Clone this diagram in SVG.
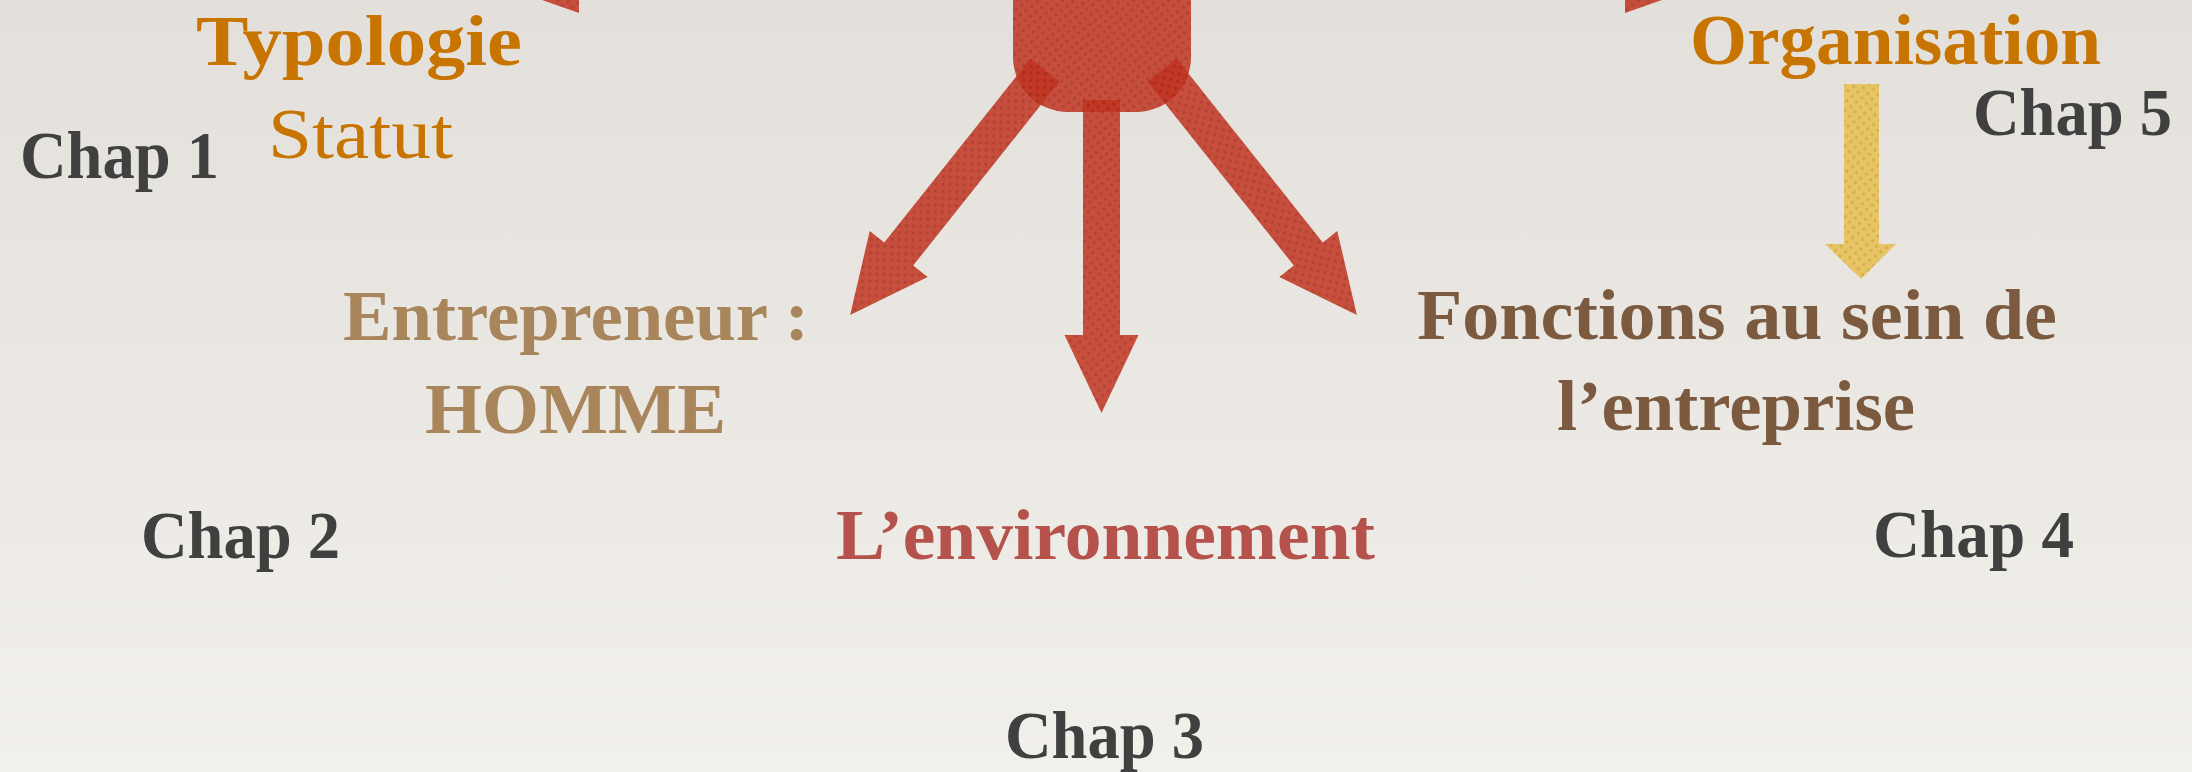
<svg xmlns="http://www.w3.org/2000/svg" width="2192" height="772" viewBox="0 0 2192 772">
  <defs>
    <linearGradient id="paper" x1="0" y1="0" x2="0" y2="1">
      <stop offset="0" stop-color="#e3e0db"/>
      <stop offset="1" stop-color="#f2f0eb"/>
    </linearGradient>
    <!-- woven dot texture for the red shapes -->
    <pattern id="redWeave" patternUnits="userSpaceOnUse" width="10" height="10" patternTransform="rotate(8)">
      <rect width="10" height="10" fill="#c03420"/>
      <rect x="1" y="1" width="3.2" height="3.2" rx="1.2" fill="#ab2715"/>
      <rect x="6" y="6" width="3.2" height="3.2" rx="1.2" fill="#ab2715"/>
    </pattern>
    <!-- same texture in ochre -->
    <pattern id="goldWeave" patternUnits="userSpaceOnUse" width="10" height="10" patternTransform="rotate(8)">
      <rect width="10" height="10" fill="#e7c567"/>
      <rect x="1" y="1" width="3.2" height="3.2" rx="1.2" fill="#d6b050"/>
      <rect x="6" y="6" width="3.2" height="3.2" rx="1.2" fill="#d6b050"/>
    </pattern>
    <!-- block arrow pointing down, origin at the tail centre -->
    <path id="blockArrow" d="M -18.5,0 L 18.5,0 L 18.5,235 L 37,235 L 0,313 L -37,235 L -18.5,235 Z"/>
  </defs>
  <style>
    .red { fill: url(#redWeave); fill-opacity: 0.85; }
    .gold { fill: url(#goldWeave); }
    text { font-family: "Liberation Serif", "Times New Roman", serif; text-anchor: middle; font-size: 72px; }
    .b { font-weight: bold; }
    .chap { font-weight: bold; font-size: 68px; fill: #404040; }
    .orange { fill: #c77400; }
    .tan { fill: #a8855a; }
    .brown { fill: #7c5a40; }
    .rose { fill: #b5524b; }
  </style>

  <rect width="2192" height="772" fill="url(#paper)"/>

  <!-- central hub -->
  <g id="hub">
    <rect class="red" x="1013" y="-66" width="178" height="178" rx="55"/>
  </g>

  <g id="connectors">
    <!-- arrows leaving the hub to the upper left and upper right -->
    <path class="red" d="M 1060,-42 L 579,-42 L 579,-61 L 474,-24 L 579,13 L 579,-6 L 1060,-6 Z"/>
    <path class="red" d="M 1144,-42 L 1625,-42 L 1625,-61 L 1730,-24 L 1625,13 L 1625,-6 L 1144,-6 Z"/>
    <!-- three arrows fanning downward -->
    <use href="#blockArrow" class="red" transform="translate(1045,70) rotate(38.5)"/>
    <use href="#blockArrow" class="red" transform="translate(1101.5,100)"/>
    <use href="#blockArrow" class="red" transform="translate(1162,70) rotate(-38.5)"/>
    <!-- Organisation to Fonctions -->
    <path class="gold" d="M 1844,84 L 1879,84 L 1879,244 L 1896,244 L 1861,279 L 1825,244 L 1844,244 Z"/>
  </g>

  <g id="typologie">
    <text class="b orange" x="359" y="65" textLength="326" lengthAdjust="spacingAndGlyphs">Typologie</text>
    <text class="orange" x="360.5" y="158" textLength="185" lengthAdjust="spacingAndGlyphs">Statut</text>
  </g>
  <g id="chap1"><text class="chap" x="119.5" y="178" textLength="199" lengthAdjust="spacingAndGlyphs">Chap 1</text></g>

  <g id="organisation">
    <text class="b orange" x="1895.5" y="64" textLength="411" lengthAdjust="spacingAndGlyphs">Organisation</text>
  </g>
  <g id="chap5"><text class="chap" x="2072.5" y="135" textLength="199" lengthAdjust="spacingAndGlyphs">Chap 5</text></g>

  <g id="entrepreneur">
    <text class="b tan" x="576" y="340" textLength="466" lengthAdjust="spacingAndGlyphs">Entrepreneur :</text>
    <text class="b tan" x="575.5" y="433" textLength="301" lengthAdjust="spacingAndGlyphs">HOMME</text>
  </g>
  <g id="chap2"><text class="chap" x="240.5" y="558" textLength="199" lengthAdjust="spacingAndGlyphs">Chap 2</text></g>

  <g id="fonctions">
    <text class="b brown" x="1737" y="339" textLength="640" lengthAdjust="spacingAndGlyphs">Fonctions au sein de</text>
    <text class="b brown" x="1736" y="430" textLength="358" lengthAdjust="spacingAndGlyphs">l’entreprise</text>
  </g>
  <g id="chap4"><text class="chap" x="1973.5" y="557" textLength="201" lengthAdjust="spacingAndGlyphs">Chap 4</text></g>

  <g id="environnement">
    <text class="b rose" x="1105.5" y="559" textLength="539" lengthAdjust="spacingAndGlyphs">L’environnement</text>
  </g>
  <g id="chap3"><text class="chap" x="1104.5" y="758" textLength="199" lengthAdjust="spacingAndGlyphs">Chap 3</text></g>
</svg>
